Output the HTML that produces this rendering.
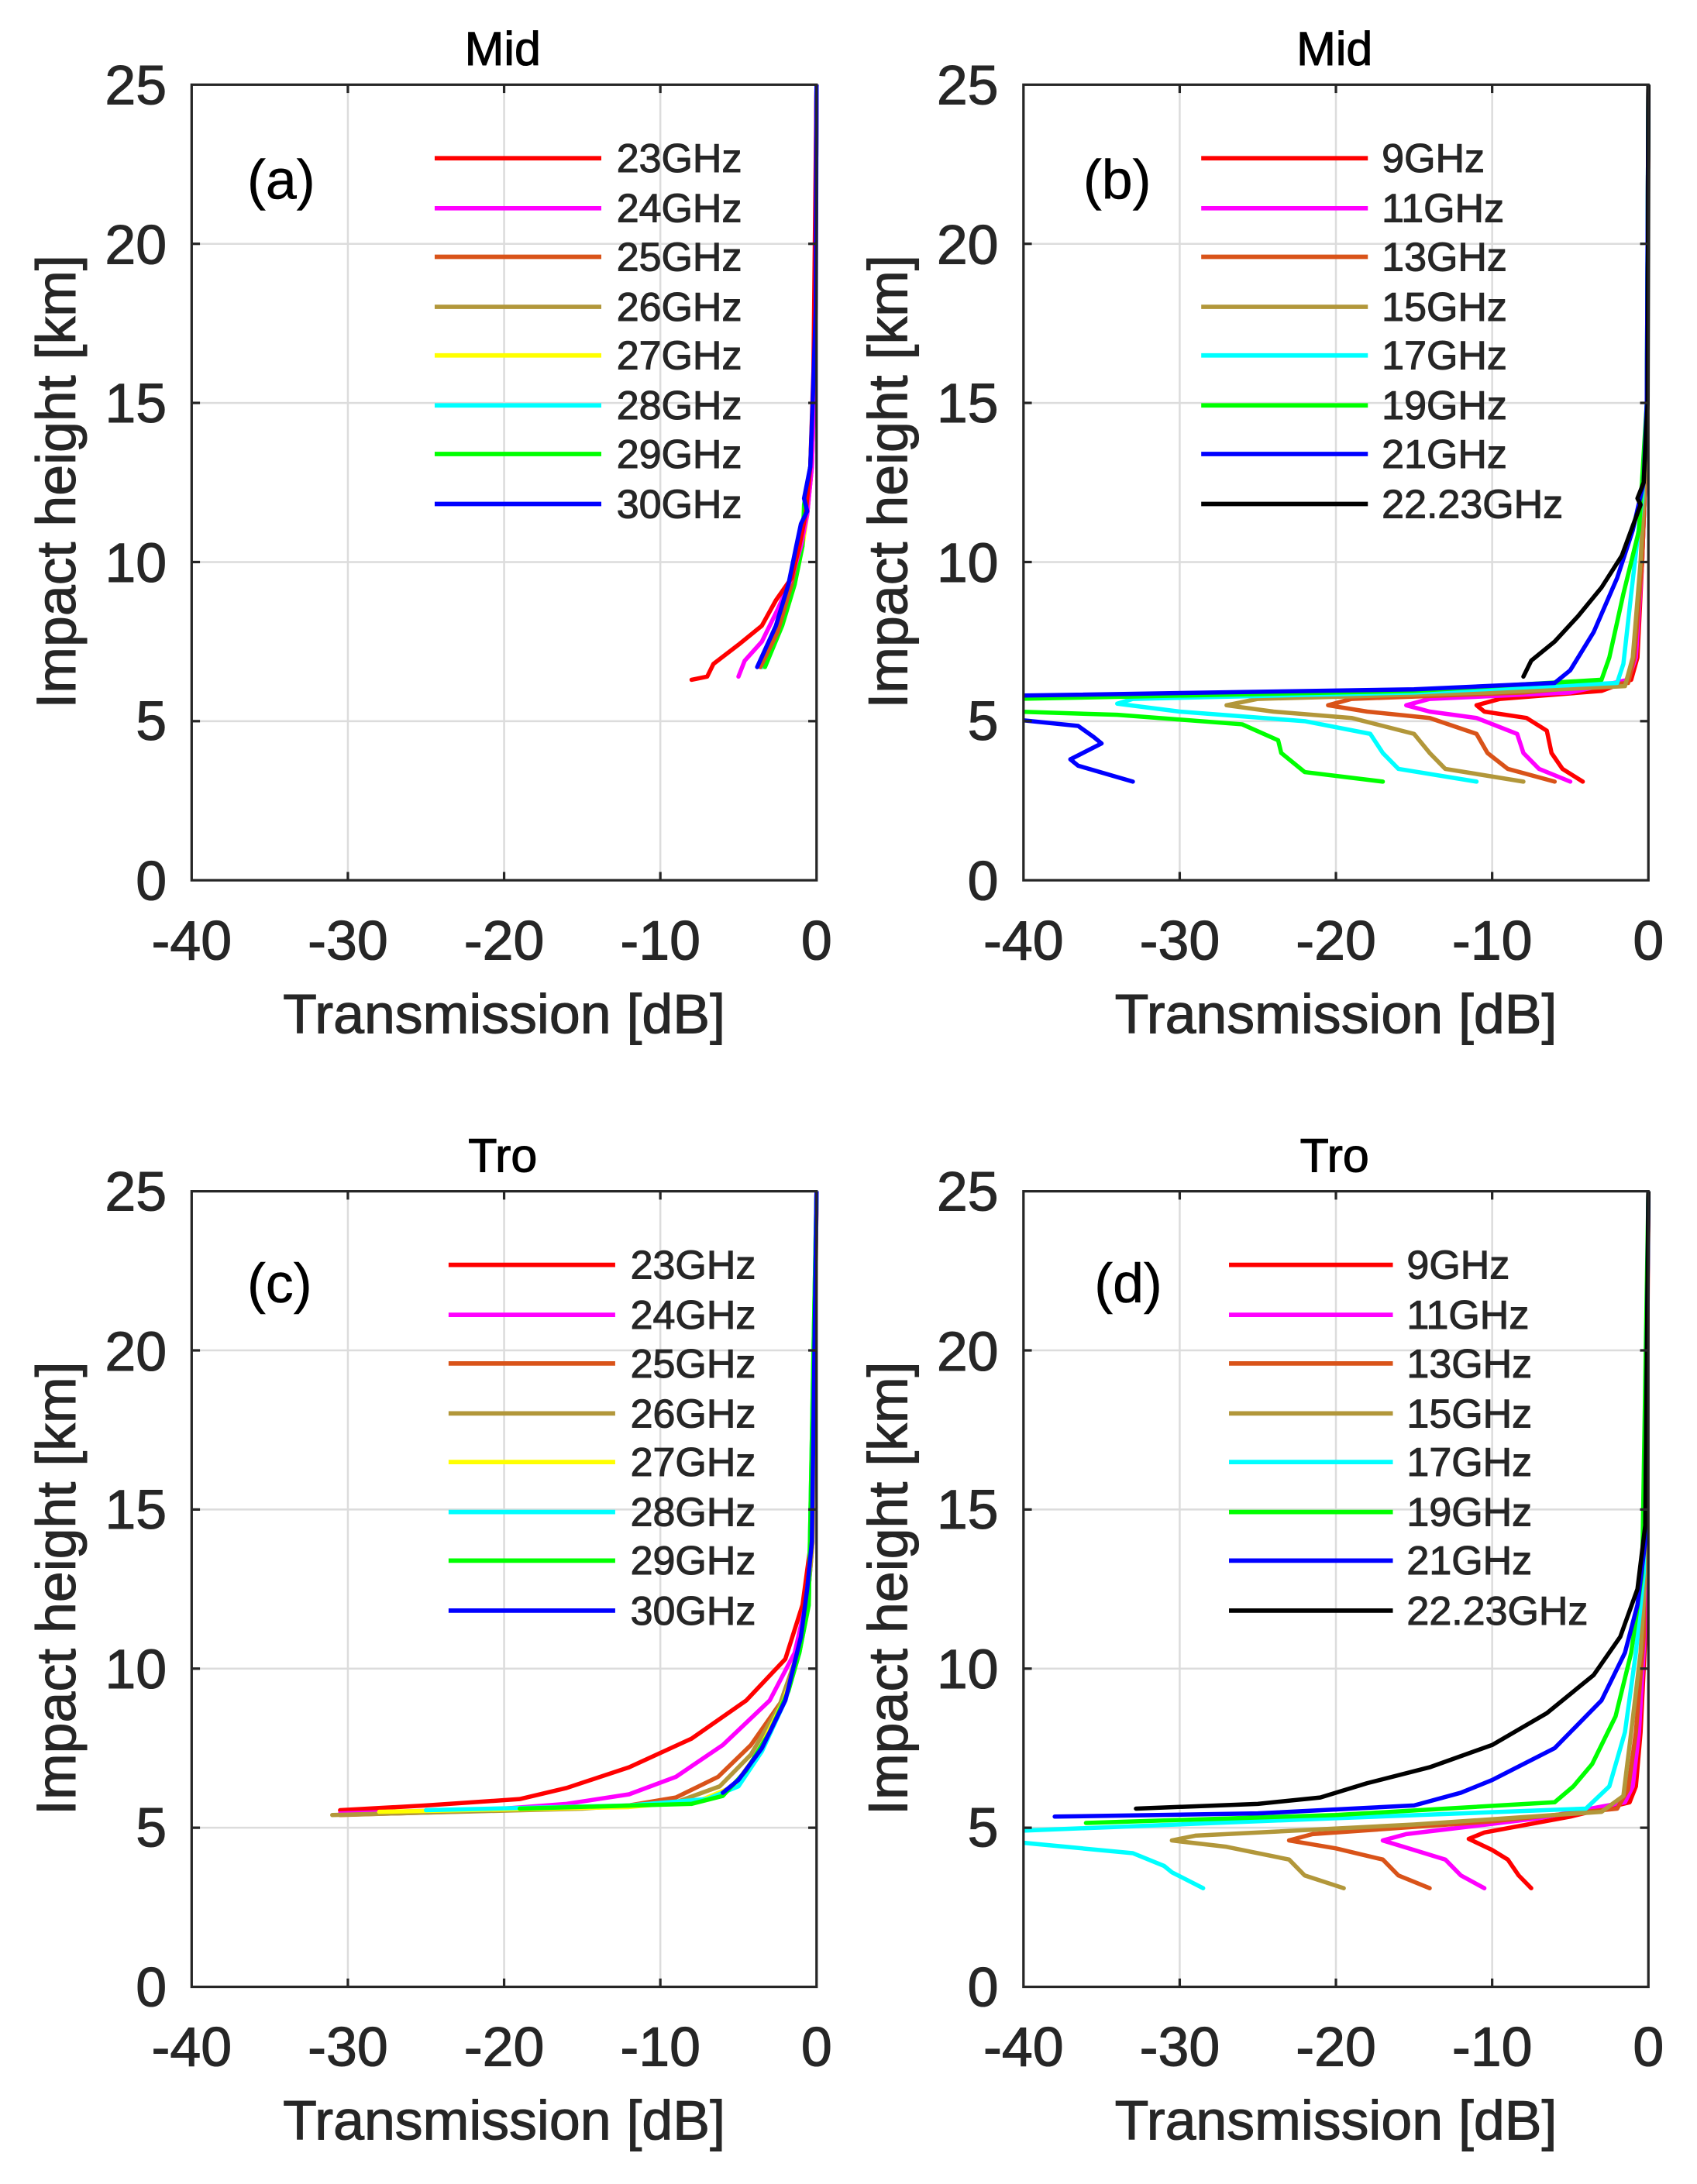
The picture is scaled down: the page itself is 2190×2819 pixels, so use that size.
<!DOCTYPE html>
<html><head><meta charset="utf-8"><style>
html,body{margin:0;padding:0;background:#fff;}
svg{display:block;}
text{font-family:"Liberation Sans",Arial,sans-serif;fill:#262626;stroke:#262626;stroke-width:0.6;}
.t{font-size:40px;}
.lab{font-size:40px;}
.ttl{font-size:34px;fill:#000;stroke:#000;}
.leg{font-size:29px;fill:#000;stroke:#000;stroke-width:0.4;}
.pl{font-size:40px;fill:#000;stroke:#000;stroke-width:0.3;}
.grid line{stroke:#dcdcdc;stroke-width:1.4;}
.tk line{stroke:#262626;stroke-width:1.8;}
.c{fill:none;stroke-width:5.5;vector-effect:non-scaling-stroke;stroke-linejoin:round;stroke-linecap:round;}
.lg line{stroke-width:3.2;}
</style></head><body>
<svg width="2190" height="2819" viewBox="0 0 1222 1573" xmlns="http://www.w3.org/2000/svg">
<defs>
<clipPath id="cl"><rect x="-40" y="0" width="40.3" height="25"/></clipPath>
</defs>

<!-- ============ PANEL A ============ -->
<g>
<g class="grid">
<line x1="250.5" y1="61" x2="250.5" y2="634"/><line x1="363" y1="61" x2="363" y2="634"/><line x1="475.5" y1="61" x2="475.5" y2="634"/>
<line x1="138" y1="175.6" x2="588" y2="175.6"/><line x1="138" y1="290.2" x2="588" y2="290.2"/><line x1="138" y1="404.8" x2="588" y2="404.8"/><line x1="138" y1="519.4" x2="588" y2="519.4"/>
</g>
<text class="ttl" x="362" y="47" text-anchor="middle">Mid</text>
<text class="pl" x="178" y="143">(a)</text>
<g transform="translate(588,634) scale(11.25,-22.92)" clip-path="url(#cl)">
<polyline class="c" stroke="#b2973a" points="-3.5,6.7 -2.3,8 -1.5,9.3 -1,10.5 -0.7,11.5 -0.4,13 -0.15,16 0,25"/>
<polyline class="c" stroke="#ffff00" points="-3.4,6.7 -2.2,8 -1.4,9.3 -0.9,10.5 -0.6,11.5 -0.35,13 -0.1,16 0,25"/>
<polyline class="c" stroke="#00ffff" points="-3.5,6.7 -2.3,8 -1.5,9.3 -1,10.5 -0.7,11.5 -0.4,13 -0.15,16 0,25"/>
<polyline class="c" stroke="#00ff00" points="-3.3,6.7 -2.2,8 -1.4,9.3 -0.9,10.5 -0.8,11.8 -0.4,13 -0.1,16 0,25"/>
<polyline class="c" stroke="#d95319" points="-3.6,6.7 -2.5,7.8 -1.6,9.3 -1.1,10.5 -0.6,11.5 -0.3,13 -0.1,16 0,25"/>
<polyline class="c" stroke="#ff00ff" points="-5,6.4 -4.6,6.9 -3.5,7.5 -2.5,8.5 -1.6,9.5 -1,10.5 -0.6,11.5 -0.3,13 -0.1,16 0,25"/>
<polyline class="c" stroke="#ff0000" points="-8,6.3 -7,6.4 -6.6,6.8 -5,7.4 -3.5,8 -2.6,8.8 -1.6,9.5 -1.1,10.5 -0.7,11.5 -0.4,13 -0.2,16 0,25"/>
<polyline class="c" stroke="#0000ff" points="-3.8,6.7 -2.6,8 -1.8,9.3 -1.3,10.5 -1,11.2 -0.6,11.6 -0.8,12 -0.4,13 -0.25,15 -0.05,18 0,25"/>
</g>
<g class="lg">
<line x1="313" y1="114" x2="433" y2="114" stroke="#ff0000"/><line x1="313" y1="150" x2="433" y2="150" stroke="#ff00ff"/>
<line x1="313" y1="185" x2="433" y2="185" stroke="#d95319"/><line x1="313" y1="221" x2="433" y2="221" stroke="#b2973a"/>
<line x1="313" y1="256" x2="433" y2="256" stroke="#ffff00"/><line x1="313" y1="292" x2="433" y2="292" stroke="#00ffff"/>
<line x1="313" y1="327" x2="433" y2="327" stroke="#00ff00"/><line x1="313" y1="363" x2="433" y2="363" stroke="#0000ff"/>
</g>
<g class="leg"><text x="444" y="124">23GHz</text><text x="444" y="160">24GHz</text><text x="444" y="195">25GHz</text><text x="444" y="231">26GHz</text><text x="444" y="266">27GHz</text><text x="444" y="302">28GHz</text><text x="444" y="337">29GHz</text><text x="444" y="373">30GHz</text></g>
<g class="tk">
<line x1="250.5" y1="634" x2="250.5" y2="628"/><line x1="363" y1="634" x2="363" y2="628"/><line x1="475.5" y1="634" x2="475.5" y2="628"/>
<line x1="250.5" y1="61" x2="250.5" y2="67"/><line x1="363" y1="61" x2="363" y2="67"/><line x1="475.5" y1="61" x2="475.5" y2="67"/>
<line x1="138" y1="175.6" x2="144" y2="175.6"/><line x1="138" y1="290.2" x2="144" y2="290.2"/><line x1="138" y1="404.8" x2="144" y2="404.8"/><line x1="138" y1="519.4" x2="144" y2="519.4"/>
<line x1="588" y1="175.6" x2="582" y2="175.6"/><line x1="588" y1="290.2" x2="582" y2="290.2"/><line x1="588" y1="404.8" x2="582" y2="404.8"/><line x1="588" y1="519.4" x2="582" y2="519.4"/>
</g>
<rect x="138" y="61" width="450" height="573" fill="none" stroke="#262626" stroke-width="1.8"/>
<g class="t" text-anchor="end"><text x="120" y="648">0</text><text x="120" y="533">5</text><text x="120" y="419">10</text><text x="120" y="304">15</text><text x="120" y="190">20</text><text x="120" y="75">25</text></g>
<g class="t" text-anchor="middle"><text x="138" y="691">-40</text><text x="250.5" y="691">-30</text><text x="363" y="691">-20</text><text x="475.5" y="691">-10</text><text x="588" y="691">0</text></g>
<text class="lab" x="363" y="744" text-anchor="middle">Transmission [dB]</text>
<text class="lab" transform="translate(54,347) rotate(-90)" text-anchor="middle">Impact height [km]</text>
</g>

<!-- ============ PANEL B ============ -->
<g>
<g class="grid">
<line x1="849.5" y1="61" x2="849.5" y2="634"/><line x1="962" y1="61" x2="962" y2="634"/><line x1="1074.5" y1="61" x2="1074.5" y2="634"/>
<line x1="737" y1="175.6" x2="1187" y2="175.6"/><line x1="737" y1="290.2" x2="1187" y2="290.2"/><line x1="737" y1="404.8" x2="1187" y2="404.8"/><line x1="737" y1="519.4" x2="1187" y2="519.4"/>
</g>
<text class="ttl" x="961" y="47" text-anchor="middle">Mid</text>
<text class="pl" x="780" y="143">(b)</text>
<g transform="translate(1187,634) scale(11.25,-22.92)" clip-path="url(#cl)">
<polyline class="c" stroke="#ff0000" points="-4.2,3.1 -5.5,3.5 -6.2,4 -6.5,4.7 -7.8,5.1 -10.5,5.3 -11,5.5 -9.5,5.7 -3,5.95 -1.1,6.3 -0.7,7 -0.4,10 -0.1,14 0,25"/>
<polyline class="c" stroke="#ff00ff" points="-5,3.1 -7,3.5 -8,4 -8.4,4.6 -11,5.1 -14,5.3 -15.5,5.5 -14,5.7 -5,5.9 -1.3,6.3 -0.8,7 -0.4,10 -0.1,14 0,25"/>
<polyline class="c" stroke="#d95319" points="-6,3.1 -9,3.5 -10.3,4 -11,4.6 -14,5.1 -18,5.3 -20.5,5.5 -19,5.7 -8,5.9 -1.3,6.2 -0.9,7 -0.4,10 -0.1,14 0,25"/>
<polyline class="c" stroke="#b2973a" points="-8,3.1 -13,3.5 -14,4 -15,4.6 -19,5.1 -24,5.3 -27,5.5 -25,5.7 -10,5.9 -1.5,6.1 -1,7 -0.5,10 -0.1,14 0,25"/>
<polyline class="c" stroke="#00ffff" points="-11,3.1 -16,3.5 -17,4 -17.8,4.6 -22,5 -30,5.3 -34,5.55 -33,5.7 -15,5.9 -2,6.2 -1.6,6.8 -1.1,9 -0.4,12 -0.1,15 0,25"/>
<polyline class="c" stroke="#00ff00" points="-17,3.1 -22,3.4 -23.5,4 -23.7,4.4 -26,4.9 -34,5.2 -40.5,5.3 -40.5,5.7 -15,5.95 -3,6.3 -2.5,7 -1.6,9 -0.6,11 -0.1,15 0,25"/>
<polyline class="c" stroke="#0000ff" points="-33,3.1 -36.5,3.6 -37,3.8 -35,4.3 -35.5,4.5 -36.5,4.85 -40.5,5.05 -40.5,5.8 -15,6 -6,6.2 -5,6.6 -3.5,7.8 -2,9.5 -1,11 -0.3,12.5 -0.1,15 0,25"/>
<polyline class="c" stroke="#000000" points="-8,6.4 -7.5,6.9 -6,7.5 -4.5,8.3 -3,9.2 -1.7,10.2 -1.1,11 -0.5,11.8 -0.7,12 -0.3,12.5 -0.05,15 0,25"/>
</g>
<g class="lg">
<line x1="865" y1="114" x2="985" y2="114" stroke="#ff0000"/><line x1="865" y1="150" x2="985" y2="150" stroke="#ff00ff"/>
<line x1="865" y1="185" x2="985" y2="185" stroke="#d95319"/><line x1="865" y1="221" x2="985" y2="221" stroke="#b2973a"/>
<line x1="865" y1="256" x2="985" y2="256" stroke="#00ffff"/><line x1="865" y1="292" x2="985" y2="292" stroke="#00ff00"/>
<line x1="865" y1="327" x2="985" y2="327" stroke="#0000ff"/><line x1="865" y1="363" x2="985" y2="363" stroke="#000000"/>
</g>
<g class="leg"><text x="995" y="124">9GHz</text><text x="995" y="160">11GHz</text><text x="995" y="195">13GHz</text><text x="995" y="231">15GHz</text><text x="995" y="266">17GHz</text><text x="995" y="302">19GHz</text><text x="995" y="337">21GHz</text><text x="995" y="373">22.23GHz</text></g>
<g class="tk">
<line x1="849.5" y1="634" x2="849.5" y2="628"/><line x1="962" y1="634" x2="962" y2="628"/><line x1="1074.5" y1="634" x2="1074.5" y2="628"/>
<line x1="849.5" y1="61" x2="849.5" y2="67"/><line x1="962" y1="61" x2="962" y2="67"/><line x1="1074.5" y1="61" x2="1074.5" y2="67"/>
<line x1="737" y1="175.6" x2="743" y2="175.6"/><line x1="737" y1="290.2" x2="743" y2="290.2"/><line x1="737" y1="404.8" x2="743" y2="404.8"/><line x1="737" y1="519.4" x2="743" y2="519.4"/>
<line x1="1187" y1="175.6" x2="1181" y2="175.6"/><line x1="1187" y1="290.2" x2="1181" y2="290.2"/><line x1="1187" y1="404.8" x2="1181" y2="404.8"/><line x1="1187" y1="519.4" x2="1181" y2="519.4"/>
</g>
<rect x="737" y="61" width="450" height="573" fill="none" stroke="#262626" stroke-width="1.8"/>
<g class="t" text-anchor="end"><text x="719" y="648">0</text><text x="719" y="533">5</text><text x="719" y="419">10</text><text x="719" y="304">15</text><text x="719" y="190">20</text><text x="719" y="75">25</text></g>
<g class="t" text-anchor="middle"><text x="737" y="691">-40</text><text x="849.5" y="691">-30</text><text x="962" y="691">-20</text><text x="1074.5" y="691">-10</text><text x="1187" y="691">0</text></g>
<text class="lab" x="962" y="744" text-anchor="middle">Transmission [dB]</text>
<text class="lab" transform="translate(653,347) rotate(-90)" text-anchor="middle">Impact height [km]</text>
</g>

<!-- ============ PANEL C ============ -->
<g>
<g class="grid">
<line x1="250.5" y1="858" x2="250.5" y2="1431"/><line x1="363" y1="858" x2="363" y2="1431"/><line x1="475.5" y1="858" x2="475.5" y2="1431"/>
<line x1="138" y1="972.6" x2="588" y2="972.6"/><line x1="138" y1="1087.2" x2="588" y2="1087.2"/><line x1="138" y1="1201.8" x2="588" y2="1201.8"/><line x1="138" y1="1316.4" x2="588" y2="1316.4"/>
</g>
<text class="ttl" x="362" y="844" text-anchor="middle">Tro</text>
<text class="pl" x="178" y="938">(c)</text>
<g transform="translate(588,1431) scale(11.25,-22.92)" clip-path="url(#cl)">
<polyline class="c" stroke="#ff0000" points="-30.5,5.55 -25,5.7 -19,5.9 -16,6.25 -12,6.9 -8,7.8 -4.5,9 -2,10.3 -0.9,12 -0.35,14 0,25"/>
<polyline class="c" stroke="#ff00ff" points="-30.5,5.45 -20,5.6 -16,5.75 -12,6.05 -9,6.6 -6,7.6 -3,9 -1.4,10.5 -0.7,12 -0.3,14 0,25"/>
<polyline class="c" stroke="#d95319" points="-30.5,5.4 -20,5.55 -12,5.7 -9,5.95 -6.3,6.6 -4.2,7.6 -2.2,9 -1.2,10.5 -0.6,12 -0.25,14 0,25"/>
<polyline class="c" stroke="#b2973a" points="-31,5.4 -15,5.6 -9,5.8 -6.2,6.3 -4.2,7.3 -2.4,8.8 -1.2,10.5 -0.6,12 -0.25,14 0,25"/>
<polyline class="c" stroke="#ffff00" points="-28,5.5 -12,5.65 -7.5,5.85 -5.3,6.3 -3.7,7.4 -2.1,9 -1.1,10.5 -0.5,12 0,25"/>
<polyline class="c" stroke="#00ffff" points="-25,5.55 -12,5.7 -7,5.9 -5,6.3 -3.5,7.4 -2,9 -1.1,10.5 -0.5,12 0,25"/>
<polyline class="c" stroke="#00ff00" points="-19,5.6 -8,5.75 -6,6 -4.5,6.8 -3,8 -1.8,9.3 -1.1,10.5 -0.5,12 0,25"/>
<polyline class="c" stroke="#0000ff" points="-6,6.1 -5,6.5 -3.5,7.5 -2,9 -1,11 -0.6,12.5 -0.3,14 0,25"/>
</g>
<g class="lg">
<line x1="323" y1="911" x2="443" y2="911" stroke="#ff0000"/><line x1="323" y1="947" x2="443" y2="947" stroke="#ff00ff"/>
<line x1="323" y1="982" x2="443" y2="982" stroke="#d95319"/><line x1="323" y1="1018" x2="443" y2="1018" stroke="#b2973a"/>
<line x1="323" y1="1053" x2="443" y2="1053" stroke="#ffff00"/><line x1="323" y1="1089" x2="443" y2="1089" stroke="#00ffff"/>
<line x1="323" y1="1124" x2="443" y2="1124" stroke="#00ff00"/><line x1="323" y1="1160" x2="443" y2="1160" stroke="#0000ff"/>
</g>
<g class="leg"><text x="454" y="921">23GHz</text><text x="454" y="957">24GHz</text><text x="454" y="992">25GHz</text><text x="454" y="1028">26GHz</text><text x="454" y="1063">27GHz</text><text x="454" y="1099">28GHz</text><text x="454" y="1134">29GHz</text><text x="454" y="1170">30GHz</text></g>
<g class="tk">
<line x1="250.5" y1="1431" x2="250.5" y2="1425"/><line x1="363" y1="1431" x2="363" y2="1425"/><line x1="475.5" y1="1431" x2="475.5" y2="1425"/>
<line x1="250.5" y1="858" x2="250.5" y2="864"/><line x1="363" y1="858" x2="363" y2="864"/><line x1="475.5" y1="858" x2="475.5" y2="864"/>
<line x1="138" y1="972.6" x2="144" y2="972.6"/><line x1="138" y1="1087.2" x2="144" y2="1087.2"/><line x1="138" y1="1201.8" x2="144" y2="1201.8"/><line x1="138" y1="1316.4" x2="144" y2="1316.4"/>
<line x1="588" y1="972.6" x2="582" y2="972.6"/><line x1="588" y1="1087.2" x2="582" y2="1087.2"/><line x1="588" y1="1201.8" x2="582" y2="1201.8"/><line x1="588" y1="1316.4" x2="582" y2="1316.4"/>
</g>
<rect x="138" y="858" width="450" height="573" fill="none" stroke="#262626" stroke-width="1.8"/>
<g class="t" text-anchor="end"><text x="120" y="1445">0</text><text x="120" y="1330">5</text><text x="120" y="1216">10</text><text x="120" y="1101">15</text><text x="120" y="987">20</text><text x="120" y="872">25</text></g>
<g class="t" text-anchor="middle"><text x="138" y="1488">-40</text><text x="250.5" y="1488">-30</text><text x="363" y="1488">-20</text><text x="475.5" y="1488">-10</text><text x="588" y="1488">0</text></g>
<text class="lab" x="363" y="1541" text-anchor="middle">Transmission [dB]</text>
<text class="lab" transform="translate(54,1144) rotate(-90)" text-anchor="middle">Impact height [km]</text>
</g>

<!-- ============ PANEL D ============ -->
<g>
<g class="grid">
<line x1="849.5" y1="858" x2="849.5" y2="1431"/><line x1="962" y1="858" x2="962" y2="1431"/><line x1="1074.5" y1="858" x2="1074.5" y2="1431"/>
<line x1="737" y1="972.6" x2="1187" y2="972.6"/><line x1="737" y1="1087.2" x2="1187" y2="1087.2"/><line x1="737" y1="1201.8" x2="1187" y2="1201.8"/><line x1="737" y1="1316.4" x2="1187" y2="1316.4"/>
</g>
<text class="ttl" x="961" y="844" text-anchor="middle">Tro</text>
<text class="pl" x="788" y="938">(d)</text>
<g transform="translate(1187,1431) scale(11.25,-22.92)" clip-path="url(#cl)">
<polyline class="c" stroke="#ff0000" points="-7.5,3.1 -8.3,3.5 -9,4 -10,4.3 -11.5,4.65 -10.5,4.85 -5,5.35 -1.2,5.8 -0.8,6.3 -0.5,8 -0.2,11 0,25"/>
<polyline class="c" stroke="#ff00ff" points="-10.5,3.1 -12,3.5 -13,4 -15,4.3 -17,4.6 -15.5,4.8 -7,5.3 -1.5,5.8 -1,6.3 -0.6,8 -0.25,11 0,25"/>
<polyline class="c" stroke="#d95319" points="-14,3.1 -16,3.5 -17,4 -20,4.35 -23,4.6 -21.5,4.8 -10,5.2 -2,5.6 -1.3,6.2 -0.8,8 -0.3,11 0,25"/>
<polyline class="c" stroke="#b2973a" points="-19.5,3.1 -22,3.5 -23,4 -27,4.4 -30.5,4.6 -29,4.75 -15,5.1 -3,5.5 -1.6,6 -1.1,8 -0.5,10.5 -0.2,13 0,25"/>
<polyline class="c" stroke="#00ffff" points="-28.5,3.1 -30.5,3.6 -31,3.8 -33,4.2 -40.5,4.55 -40.5,4.9 -20,5.3 -4,5.6 -2.5,6.3 -1.5,8 -0.8,10.5 -0.3,13 0,25"/>
<polyline class="c" stroke="#00ff00" points="-36,5.15 -20,5.4 -6,5.8 -4.8,6.3 -3.6,7 -2.1,8.5 -1.1,10.5 -0.4,13 0,25"/>
<polyline class="c" stroke="#0000ff" points="-38,5.35 -25,5.45 -15,5.7 -12,6.1 -10,6.5 -6,7.5 -3,9 -1.5,10.5 -0.7,12 -0.2,14 0,25"/>
<polyline class="c" stroke="#000000" points="-32.8,5.6 -25,5.75 -21,5.95 -18,6.4 -14,6.9 -10,7.6 -6.5,8.6 -3.5,9.8 -1.8,11 -0.7,12.5 -0.2,14.5 0,25"/>
</g>
<g class="lg">
<line x1="885" y1="911" x2="1003" y2="911" stroke="#ff0000"/><line x1="885" y1="947" x2="1003" y2="947" stroke="#ff00ff"/>
<line x1="885" y1="982" x2="1003" y2="982" stroke="#d95319"/><line x1="885" y1="1018" x2="1003" y2="1018" stroke="#b2973a"/>
<line x1="885" y1="1053" x2="1003" y2="1053" stroke="#00ffff"/><line x1="885" y1="1089" x2="1003" y2="1089" stroke="#00ff00"/>
<line x1="885" y1="1124" x2="1003" y2="1124" stroke="#0000ff"/><line x1="885" y1="1160" x2="1003" y2="1160" stroke="#000000"/>
</g>
<g class="leg"><text x="1013" y="921">9GHz</text><text x="1013" y="957">11GHz</text><text x="1013" y="992">13GHz</text><text x="1013" y="1028">15GHz</text><text x="1013" y="1063">17GHz</text><text x="1013" y="1099">19GHz</text><text x="1013" y="1134">21GHz</text><text x="1013" y="1170">22.23GHz</text></g>
<g class="tk">
<line x1="849.5" y1="1431" x2="849.5" y2="1425"/><line x1="962" y1="1431" x2="962" y2="1425"/><line x1="1074.5" y1="1431" x2="1074.5" y2="1425"/>
<line x1="849.5" y1="858" x2="849.5" y2="864"/><line x1="962" y1="858" x2="962" y2="864"/><line x1="1074.5" y1="858" x2="1074.5" y2="864"/>
<line x1="737" y1="972.6" x2="743" y2="972.6"/><line x1="737" y1="1087.2" x2="743" y2="1087.2"/><line x1="737" y1="1201.8" x2="743" y2="1201.8"/><line x1="737" y1="1316.4" x2="743" y2="1316.4"/>
<line x1="1187" y1="972.6" x2="1181" y2="972.6"/><line x1="1187" y1="1087.2" x2="1181" y2="1087.2"/><line x1="1187" y1="1201.8" x2="1181" y2="1201.8"/><line x1="1187" y1="1316.4" x2="1181" y2="1316.4"/>
</g>
<rect x="737" y="858" width="450" height="573" fill="none" stroke="#262626" stroke-width="1.8"/>
<g class="t" text-anchor="end"><text x="719" y="1445">0</text><text x="719" y="1330">5</text><text x="719" y="1216">10</text><text x="719" y="1101">15</text><text x="719" y="987">20</text><text x="719" y="872">25</text></g>
<g class="t" text-anchor="middle"><text x="737" y="1488">-40</text><text x="849.5" y="1488">-30</text><text x="962" y="1488">-20</text><text x="1074.5" y="1488">-10</text><text x="1187" y="1488">0</text></g>
<text class="lab" x="962" y="1541" text-anchor="middle">Transmission [dB]</text>
<text class="lab" transform="translate(653,1144) rotate(-90)" text-anchor="middle">Impact height [km]</text>
</g>
</svg>
</body></html>
